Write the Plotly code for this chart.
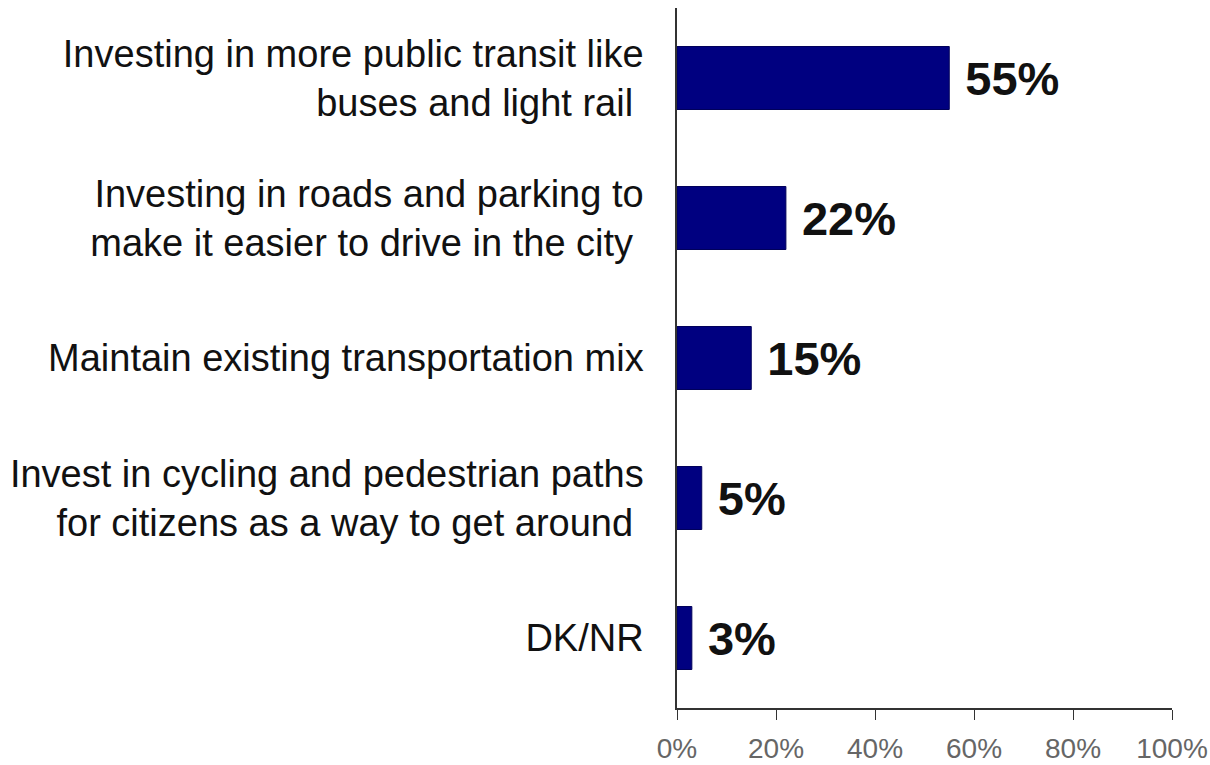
import plotly.graph_objects as go

# Survey categories (top to bottom) and shares in percent
categories = [
    "Investing in more public transit like<br>buses and light rail ",
    "Investing in roads and parking to<br>make it easier to drive in the city ",
    "Maintain existing transportation mix",
    "Invest in cycling and pedestrian paths<br>for citizens as a way to get around ",
    "DK/NR",
]
shares = [55, 22, 15, 5, 3]
bar_labels = ["55%", "22%", "15%", "5%", "3%"]
x_ticks = [0, 20, 40, 60, 80, 100]
x_tick_labels = ["0%", "20%", "40%", "60%", "80%", "100%"]

FONT = "Liberation Sans, Arial, sans-serif"

fig = go.Figure(
    go.Bar(
        x=shares,
        y=categories,
        orientation="h",
        width=0.45,
        marker=dict(color="#000080", line=dict(color="#00005a", width=1)),
        text=bar_labels,
        texttemplate=" %{text}",
        textposition="outside",
        textfont=dict(family=FONT, size=47, color="#111111", weight="bold"),
        cliponaxis=False,
    )
)

fig.update_layout(
    width=1210,
    height=765,
    plot_bgcolor="white",
    paper_bgcolor="white",
    showlegend=False,
    margin=dict(l=677, r=38, t=8, b=57, autoexpand=False),
    font=dict(family=FONT, color="#111111"),
)

fig.update_yaxes(
    autorange="reversed",
    automargin=False,
    showline=True,
    linecolor="#333333",
    linewidth=1.5,
    ticks="",
    ticklabelstandoff=24,
    tickfont=dict(family=FONT, size=38, color="#111111"),
    showgrid=False,
    zeroline=False,
)

fig.update_xaxes(
    range=[0, 100],
    automargin=False,
    tickvals=x_ticks,
    ticktext=x_tick_labels,
    showline=True,
    linecolor="#333333",
    linewidth=1.5,
    ticks="outside",
    ticklen=10,
    tickcolor="#333333",
    ticklabelstandoff=5,
    ticklabeloverflow="allow",
    tickfont=dict(family=FONT, size=28, color="#666666"),
    showgrid=False,
    zeroline=False,
)

# page body has a default 8px margin; drop it so the figure fills the window
fig.write_html(
    "out.html",
    config={"displayModeBar": False},
    post_script="document.body.style.margin = '0';",
)
